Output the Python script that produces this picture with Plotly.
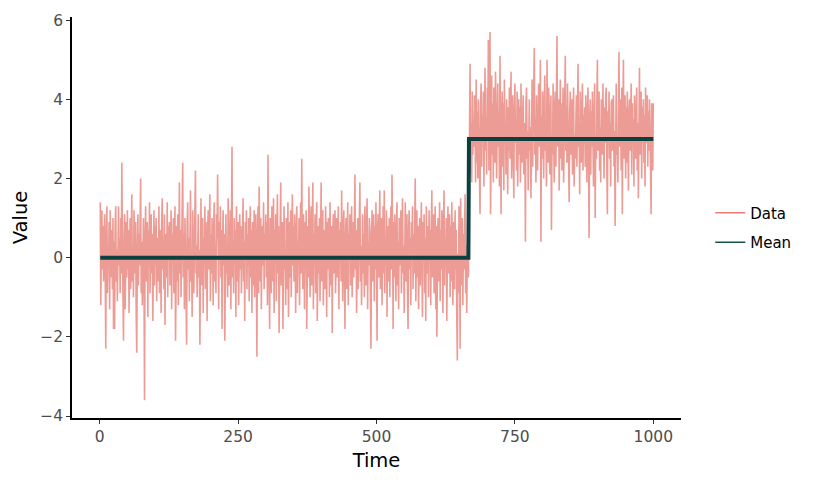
import plotly.graph_objects as go

# ---- data ----
value = [
    1.4, -1.2, 0.5, 1.2, -0.3, 0.8, -0.6, 0.2, 1.1, -0.4, -2.3, 0.6, 1.3, -0.9, 0.3, -0.2, 0.9, -1.3, 1.2, 0.1, -0.5, 0.7, -0.8, 1.0, -1.8,
    0.4, -1.8, 0.9, 1.3, -0.6, 0.2, -1.1, 0.8, 1.3, -0.2, 0.5, -0.9, 1.0, -0.4, 2.4, 0.3, -0.7, -2.1, 0.6, 1.1, -1.3, 0.2, 0.9, -0.5, 1.2,
    -0.3, 0.7, -1.4, 0.4, 1.0, -0.8, 0.1, 1.6, -0.6, 0.3, -1.0, 1.2, 0.5, -0.4, 0.9, -1.5, -2.4, 0.2, 1.1, -0.7, 0.6, -0.2, 1.3, 2.0, -0.9,
    0.4, -1.2, 0.8, 1.0, -0.3, -3.6, 0.5, 1.3, -0.6, 0.1, 0.9, -1.5, 0.7, -0.2, 1.4, -0.9, 0.3, 1.1, -0.4, 0.6, -1.6, 0.2, 1.2, -0.7, 0.8,
    -0.2, 1.0, -1.1, 0.5, 0.3, -0.6, 1.3, -0.9, 0.7, 0.1, -1.4, 0.9, 1.5, -0.3, 0.4, -0.8, 1.1, -1.7, 0.6, 0.2, -0.5, 1.4, -1.0, 0.8, 0.0,
    0.9, -0.7, 0.3, 1.2, -1.3, 0.6, -0.1, 1.0, -0.9, 0.4, 1.3, -2.1, 0.2, 0.8, -0.6, 1.1, -1.2, 0.5, 1.9, -0.4, 0.7, -1.0, 0.3, 1.2, 2.4,
    -0.5, 0.6, -1.3, 1.0, 0.2, -0.8, -2.2, 0.9, 1.4, -0.3, 0.5, -1.1, 0.8, 1.7, -0.6, 0.1, -1.5, 1.2, 0.4, -0.9, 0.7, 1.3, 2.2, -0.4, 0.3,
    -1.0, 0.8, 1.1, -0.5, 0.2, -2.2, 0.6, 1.5, -0.7, 0.3, 1.0, -1.4, 0.5, -0.2, 1.3, -0.8, 0.9, 0.0, -1.6, 0.7, 1.2, -0.3, 0.4, 1.6, -1.1,
    0.6, -0.4, 1.0, 0.2, -1.2, 0.8, 1.4, -0.6, 0.3, -0.9, 1.1, 0.5, 2.1, -0.7, -1.3, 0.9, 0.1, 1.3, -0.5, 0.7, -1.8, 0.4, 1.2, -0.2, 0.6,
    -2.1, 0.8, 1.1, -0.4, 0.3, -1.0, 1.5, 0.6, -0.7, 0.2, 1.2, -1.3, 0.9, 2.8, -0.5, 0.4, -0.9, 1.0, -0.1, 0.7, -1.5, 1.3, 0.3, -0.6, 0.9,
    -1.2, 0.5, 1.1, -0.3, 0.8, -0.9, 0.2, 1.4, 1.5, -0.6, 0.4, -1.6, 0.9, 0.1, 1.2, -0.8, 0.6, -0.2, 1.0, -1.1, 0.3, 1.3, -0.5, 0.7, -1.4,
    0.9, 0.2, -0.7, 1.2, -1.0, 0.5, 1.1, -0.4, -2.5, 0.6, 1.3, -0.9, 1.8, 0.3, -0.6, 1.0, -1.3, 0.4, 0.8, -0.2, 1.4, -0.8, 0.6, 0.0, 1.1,
    -0.5, 0.9, -1.2, 2.6, 0.4, -0.3, -1.8, 1.0, 0.6, -0.9, 1.3, 0.2, -0.6, 1.5, -1.4, 0.7, 0.1, 1.1, -1.1, 0.5, 1.6, -0.4, 0.8, -1.9, 0.3,
    1.2, 1.9, -0.7, 0.4, 0.9, -1.8, 0.6, 1.3, -0.3, 0.2, -1.2, 1.0, 0.7, -0.8, 1.4, -1.5, 0.3, 0.9, -0.5, 1.2, -1.0, 0.5, 1.6, -0.2, 0.8,
    -0.6, 1.1, 0.3, -1.4, 0.7, 1.3, -0.9, 0.4, -0.1, 1.0, -1.2, 0.6, 1.4, -0.4, 2.5, 0.2, -0.8, 1.1, 0.5, -1.3, 0.9, -0.3, 1.2, -1.8, 0.4,
    0.8, -0.5, 1.8, 0.2, -1.0, 0.9, 1.3, -0.7, 0.4, 1.9, -1.3, 0.6, -0.2, 1.1, -0.9, 0.5, 1.4, -1.6, 0.3, 0.8, -0.4, 1.0, -1.1, 0.7, 1.9,
    -0.6, 0.4, 1.2, -1.2, 0.7, 0.1, -0.8, 1.3, 0.5, -1.5, 0.9, -0.3, 1.0, 0.6, -1.0, 1.4, 0.2, -0.7, 0.8, -1.9, 0.5, 1.1, -0.4, 0.3, 1.2,
    -0.9, 0.6, 1.0, -0.5, 0.2, 1.3, -1.3, 0.7, -0.1, 0.9, -0.6, 1.7, 0.4, -1.1, 0.8, 1.2, -0.4, -1.8, 0.5, 1.0, -0.8, 0.3, 1.4, -1.2, 0.6,
    0.1, 1.1, -0.7, 0.5, 1.3, -1.0, 0.4, 0.9, -0.5, 1.2, 2.1, -0.3, 0.7, -1.4, 0.2, 1.0, -0.8, 0.6, 1.4, 1.9, -0.6, 0.3, -1.2, 0.8, 1.1,
    -0.4, 0.6, -1.0, 1.3, 0.2, -0.7, 0.9, 1.5, -1.3, 0.4, -0.2, 1.0, 0.7, -0.9, -2.3, 0.5, 1.2, -0.6, 0.3, 1.1, -1.1, 0.8, -0.3, 1.4, 0.0,
    -2.1, 0.7, 1.1, -0.5, 0.4, 1.7, -0.8, 0.2, 1.0, -1.2, 0.6, 1.3, -0.4, 1.7, -0.9, 0.5, -0.1, 1.2, -1.5, 0.8, 0.3, -0.6, 1.0, -1.0, 0.4,
    1.3, -0.3, 2.1, 0.6, -1.8, 0.9, -0.5, 1.1, 0.2, -1.1, 0.7, 1.4, -0.7, 0.4, -1.3, 1.0, 0.5, -0.2, 1.2, -0.9, 0.6, 1.5, -0.4, 0.3, -1.4,
    0.8, 1.4, -0.6, 0.2, 1.1, -1.0, -1.8, 0.7, 1.2, -0.3, 0.5, -1.2, 0.9, 0.1, 1.3, -0.8, 0.6, -0.4, 1.0, 2.0, -1.1, 0.4, 1.2, -0.5, 0.8,
    -1.3, 0.3, 1.0, -0.7, 0.6, 1.4, -0.2, -1.5, 0.9, 0.2, 1.1, -0.9, 0.5, -1.6, 1.3, 0.4, -0.4, 0.8, -1.0, 1.2, 0.0, 0.7, -1.2, 0.9, 1.7,
    -0.5, 0.6, 1.1, -0.9, 0.3, 1.3, -1.3, 0.8, -2.0, 0.5, 1.0, -0.6, 0.2, 1.4, -1.1, 0.7, -0.3, 1.2, 0.4, -1.4, 0.9, 1.7, -0.7, 0.5, -0.2,
    1.0, -1.6, 0.6, 1.3, -0.4, 0.2, 1.1, -1.0, 0.8, -0.6, 1.4, 0.3, -1.2, 0.9, 0.5, -0.8, 1.2, -0.3, 0.7, -1.5, -2.6, 0.1, -0.9, 1.3, 0.6,
    -2.3, 1.5, -0.7, 0.4, 1.0, -1.2, 0.6, -0.3, 1.1, 1.6, -0.9, 0.3, -1.4, 0.8, 1.2, -0.5, 1.6, 3.8, 4.9, 2.1, 3.4, 1.9, 4.2, 2.6, 3.5,
    2.8, 4.1, 3.3, 1.9, 4.5, 2.4, 3.7, 2.0, 4.0, 3.1, 2.5, 1.1, 3.9, 4.4, 2.3, 3.6, 2.9, 4.2, 1.8, 3.3, 4.8, 2.7, 3.5, 2.1, 4.3,
    3.0, 5.5, 2.2, 3.8, 5.7, 1.1, 3.4, 4.6, 2.6, 3.9, 1.9, 4.3, 3.1, 2.4, 4.7, 3.6, 2.0, 3.3, 4.4, 2.8, 3.7, 1.8, 5.1, 3.2, 1.1,
    3.5, 4.2, 2.3, 3.9, 1.7, 4.5, 2.9, 3.4, 2.1, 4.0, 3.2, 1.6, 3.8, 2.7, 4.3, 2.5, 3.6, 4.7, 2.0, 3.1, 4.1, 2.6, 1.5, 3.7, 4.4,
    2.9, 3.5, 2.2, 4.2, 1.8, 3.3, 4.0, 2.6, 3.8, 1.9, 4.4, 3.0, 2.4, 3.6, 4.1, 2.1, 3.4, 2.8, 0.4, 3.9, 4.3, 2.5, 3.2, 1.7, 3.7,
    4.0, 2.7, 3.3, 1.5, 3.8, 4.5, 2.3, 3.1, 4.2, 5.3, 2.6, 3.5, 1.9, 4.1, 3.0, 2.2, 3.7, 4.4, 2.8, 3.4, 5.0, 0.4, 3.6, 2.5, 4.2,
    3.1, 2.0, 3.9, 4.6, 2.7, 3.4, 1.8, 5.0, 3.2, 2.4, 4.3, 3.7, 2.1, 3.9, 4.1, 0.7, 3.0, 2.6, 4.4, 3.5, 1.9, 3.8, 4.2, 2.3, 3.3,
    5.6, 2.8, 3.6, 4.0, 1.7, 3.2, 4.5, 2.5, 3.9, 2.2, 3.5, 4.3, 1.9, 3.0, 4.1, 5.1, 2.7, 3.8, 2.4, 4.4, 3.3, 2.0, 1.4, 3.7, 4.2,
    2.6, 3.4, 4.0, 2.1, 3.7, 4.3, 1.8, 3.1, 2.5, 3.9, 4.1, 2.3, 3.5, 4.9, 2.8, 3.3, 1.6, 4.2, 3.0, 2.4, 3.8, 4.4, 2.2, 3.6, 2.9,
    3.8, 2.3, 4.1, 3.2, 1.9, 3.6, 4.3, 2.6, 0.5, 3.4, 4.0, 2.1, 3.7, 2.8, 4.2, 3.0, 1.8, 3.5, 4.4, 1.0, 3.1, 2.5, 3.9, 5.0, 2.7,
    3.6, 4.2, 2.2, 3.3, 1.9, 4.0, 3.1, 2.6, 4.4, 3.5, 2.0, 3.8, 2.9, 4.1, 4.3, 2.4, 1.1, 3.7, 3.0, 4.2, 2.5, 3.4, 1.8, 3.9, 4.0,
    2.7, 3.5, 4.1, 2.3, 3.2, 0.8, 3.9, 4.4, 2.6, 3.0, 1.9, 3.7, 5.2, 2.8, 4.0, 3.3, 2.2, 4.3, 1.1, 3.6, 5.0, 2.5, 3.4, 4.1, 2.0,
    3.8, 2.4, 4.2, 3.1, 1.7, 3.6, 4.0, 2.7, 3.3, 4.4, 2.1, 3.9, 2.9, 3.5, 1.8, 4.1, 3.2, 2.5, 3.7, 4.3, 2.2, 3.4, 1.5, 3.9, 4.8,
    2.6, 3.5, 4.2, 2.0, 3.8, 3.1, 4.0, 2.4, 3.6, 1.8, 4.3, 2.9, 3.3, 4.1, 2.3, 3.7, 2.7, 4.0, 3.2, 2.1, 1.1, 3.9, 2.8, 2.2, 3.9,
]
time = list(range(1, len(value) + 1))

segment_start = [1, 667]
segment_end = [666, 1000]
segment_mean = [0, 3]

mean_x, mean_y = [], []
for s, e, m in zip(segment_start, segment_end, segment_mean):
    mean_x += [s, e]
    mean_y += [m, m]

x_ticks = [0, 250, 500, 750, 1000]
y_ticks = [-4, -2, 0, 2, 4, 6]

DATA_COLOR = "rgba(232,130,122,0.8)"
MEAN_COLOR = "#0d3f3f"

fig = go.Figure()
fig.add_trace(go.Scatter(
    x=time, y=value, mode="lines", name="Data", showlegend=False,
    line=dict(color=DATA_COLOR, width=1.6),
))
fig.add_trace(go.Scatter(
    x=mean_x, y=mean_y, mode="lines", name="Mean", showlegend=False,
    line=dict(color=MEAN_COLOR, width=4),
))
# legend entries (thin key lines, as in the reference)
fig.add_trace(go.Scatter(
    x=[None], y=[None], mode="lines", name="Data", legendgroup="a",
    line=dict(color="#f07d73", width=1.5),
))
fig.add_trace(go.Scatter(
    x=[None], y=[None], mode="lines", name="Mean", legendgroup="b",
    line=dict(color="#17504c", width=1.5),
))

axis_common = dict(
    showgrid=False, zeroline=False, showline=True, linecolor="black", linewidth=1.5,
    ticks="outside", ticklen=4, tickcolor="#333333", tickwidth=1.2, automargin=False,
    tickfont=dict(family="DejaVu Sans", size=15.5, color="#4d4d4d"),
    title_font=dict(family="DejaVu Sans", size=19.5, color="black"),
)

# the page body adds an 8px offset, so the figure is 8px smaller than the window
fig.update_layout(
    width=822, height=476,
    paper_bgcolor="white", plot_bgcolor="white",
    margin=dict(l=64, r=149, t=9, b=66),
    font=dict(family="DejaVu Sans"),
    legend=dict(
        x=1.048, y=0.475, xanchor="left", yanchor="middle",
        font=dict(family="DejaVu Sans", size=15, color="black"),
        bgcolor="rgba(0,0,0,0)", tracegroupgap=7,
    ),
)
fig.update_xaxes(range=[-50, 1050], tickvals=x_ticks, title_text="Time", title_standoff=8, **axis_common)
fig.update_yaxes(range=[-4.05, 6.08], tickvals=y_ticks, title_text="Value", title_standoff=7, **axis_common)

fig.write_html("out.html")
